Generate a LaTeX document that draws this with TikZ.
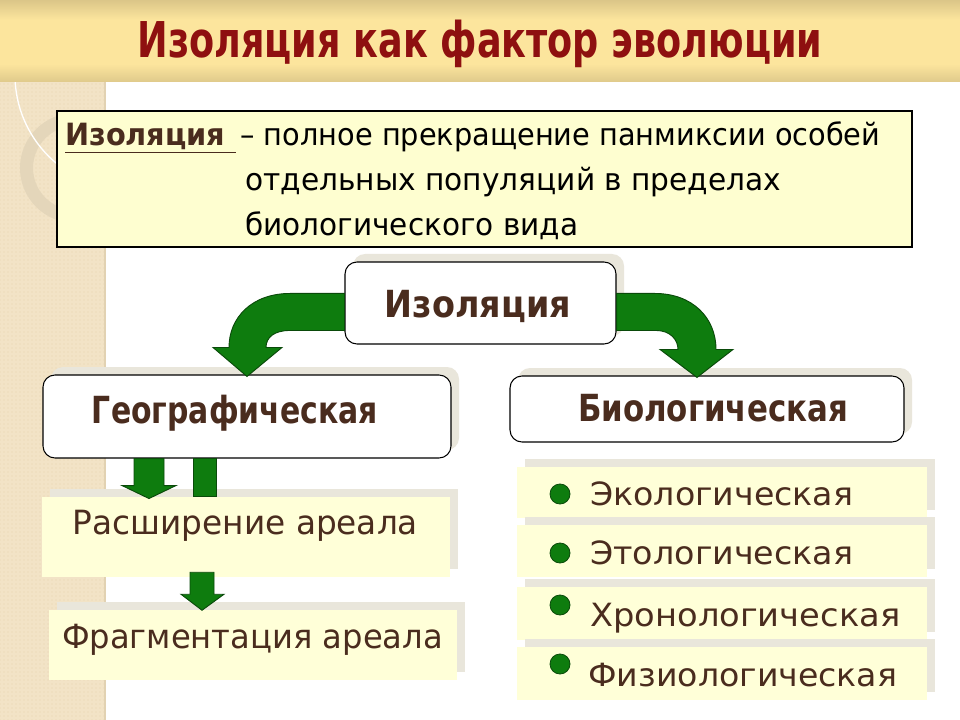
\documentclass[tikz,border=0pt]{standalone}
\usepackage{fontspec}
\setmainfont{DejaVu Sans}
\usepackage{graphicx}
\usetikzlibrary{fit,shadows,patterns}
\definecolor{brownt}{HTML}{4A2C1E}
\definecolor{titlered}{HTML}{8E1010}
\definecolor{defc}{HTML}{FEFED0}
\definecolor{itemc}{HTML}{FFFFD8}
\definecolor{shadowc}{HTML}{E9E6DB}
\definecolor{stripc}{HTML}{F2E3C6}
\definecolor{stripdot}{HTML}{E6D3AE}
\definecolor{stripedge}{HTML}{E2D2B2}
\definecolor{ringc}{HTML}{E4D6BA}
\definecolor{tbA}{HTML}{7A6E4A}
\definecolor{tbM}{HTML}{C2AE78}
\definecolor{tbB}{HTML}{FCE59D}
\definecolor{tbC}{HTML}{756945}
\definecolor{arrowg}{HTML}{0E7C0E}
\definecolor{arrowdk}{HTML}{0A4A0A}
\pgfdeclareverticalshading{tbar}{100bp}{color(0bp)=(tbC); color(14bp)=(tbM); color(36bp)=(tbB); color(63bp)=(tbB); color(84bp)=(tbM); color(100bp)=(tbA)}
\newcommand{\fw}[2]{\resizebox{#1}{\height}{#2}}
\begin{document}
\begin{tikzpicture}[x=0.75pt,y=-0.75pt,
  wbox/.style={draw=black, line width=0.8pt, fill=white, rounded corners=9pt, inner sep=0pt,
    general shadow={fill=shadowc, shadow xshift=6pt, shadow yshift=6pt}},
  ibox/.style={fill=itemc, inner sep=0pt,
    general shadow={fill=shadowc, shadow xshift=6pt, shadow yshift=6pt}},
  defbox/.style={draw=black, line width=0.8pt, fill=defc, inner sep=0pt},
  lbl/.style={inner sep=0pt, text=brownt},
  bigb/.style={font=\fontsize{28}{30}\selectfont\bfseries},
  midt/.style={font=\fontsize{25}{28}\selectfont},
  itemt/.style={font=\fontsize{24}{27}\selectfont},
  deft/.style={inner sep=0pt, text=black, font=\fontsize{23}{26}\selectfont},
  bulletdot/.style={circle, fill=arrowg, draw=arrowdk, line width=0.6pt, minimum size=15pt, inner sep=0pt},
  garrow/.style={fill=arrowg, draw=arrowdk, line width=0.7pt}
]
\useasboundingbox (0,0) rectangle (960,720);
\fill[white] (0,0) rectangle (960,720);
% left strip
\fill[stripc] (0,82) rectangle (105,720);
\fill[pattern=dots, pattern color=stripdot] (0,82) rectangle (105,720);
\draw[stripedge, line width=1.5pt] (105,82) -- (105,720);
\begin{scope}
  \clip (0,82) rectangle (105,720);
  \draw[ringc, line width=9.75pt] (75,168) circle (48.5);
  \draw[white, line width=1pt] (130,75) circle (115);
\end{scope}
% title bar
\shade[shading=tbar] (0,0) rectangle (960,82);
\node[anchor=base, inner sep=0pt, text=titlered, font=\fontsize{37}{40}\selectfont\bfseries] (title) at (480,58) {\fw{513.75pt}{Изоляция как фактор эволюции}};

% definition
\node[defbox, fit={(57,111)(912,247)}] (def) {};
\node[deft, anchor=base west] (def1) at (65,146) {\fw{611.25pt}{\textcolor{brownt}{\underline{\bfseries Изоляция\ }}\,– полное прекращение панмиксии особей}};
\node[deft, anchor=base west] (def2) at (245,191) {\fw{402pt}{отдельных популяций в пределах}};
\node[deft, anchor=base west] (def3) at (245,236) {\fw{249.75pt}{биологического вида}};

% main boxes
\node[wbox, fit={(345,262)(616,344)}] (iso) {};
\node[lbl, bigb, anchor=base] (isot) at (478,317) {\fw{139.5pt}{Изоляция}};
\node[wbox, fit={(43,375)(451,458)}] (geo) {};
\node[lbl, bigb, anchor=base] (geot) at (235,423) {\fw{214.5pt}{Географическая}};
\node[wbox, fit={(510,376)(904,442)}] (bio) {};
\node[lbl, bigb, anchor=base] (biot) at (713,421) {\fw{202.5pt}{Биологическая}};

% geographic branch
\node[ibox, fit={(42,497)(450,577)}] (ras) {};
\node[lbl, midt, anchor=base] (rast) at (245.5,534) {\fw{258.75pt}{Расширение ареала}};
\node[ibox, fit={(49,610)(457,680)}] (frag) {};
\node[lbl, midt, anchor=base] (fragt) at (252.5,648) {\fw{285.75pt}{Фрагментация ареала}};

% biological branch
\node[ibox, fit={(517,467)(927,518)}] (i1) {};
\node[ibox, fit={(517,525)(927,577)}] (i2) {};
\node[ibox, fit={(517,587)(927,640)}] (i3) {};
\node[ibox, fit={(517,647)(927,700)}] (i4) {};
\node[bulletdot] (b1) at (560,494) {};
\node[bulletdot] (b2) at (560,553) {};
\node[bulletdot] (b3) at (560,605) {};
\node[bulletdot] (b4) at (560,664) {};
\node[lbl, itemt, anchor=base west] (t1) at (590,505) {\fw{197.25pt}{Экологическая}};
\node[lbl, itemt, anchor=base west] (t2) at (590,564) {\fw{197.25pt}{Этологическая}};
\node[lbl, itemt, anchor=base west] (t3) at (590,626) {\fw{232.5pt}{Хронологическая}};
\node[lbl, itemt, anchor=base west] (t4) at (588,686) {\fw{231.75pt}{Физиологическая}};

% curved arrows
\begin{scope}[shift={(geo.north)}]
  \filldraw[garrow] (iso.west |- 0,-81) -- (43,-81) .. controls (5,-81) and (-18,-57) .. (-18,-27)
    -- (-34,-27) -- (0,2) -- (35,-27) -- (19,-27) .. controls (19,-37) and (27,-44) .. (43,-44)
    -- (iso.west |- 0,-44) -- cycle;
\end{scope}
\begin{scope}[shift={(bio.north)}]
  \filldraw[garrow] (iso.east |- 0,-82) -- (-52,-82) .. controls (-15,-82) and (9,-58) .. (9,-26)
    -- (26,-26) -- (-10,2) -- (-47,-26) -- (-29,-26) .. controls (-29,-36) and (-37,-45) .. (-51,-45)
    -- (iso.east |- 0,-45) -- cycle;
\end{scope}
% straight arrows
\begin{scope}[shift={(geo.south)}]
  \filldraw[garrow] (-113,0) -- (-83,0) -- (-83,27) -- (-71,27) -- (-98,40) -- (-125,27) -- (-113,27) -- cycle;
  \filldraw[garrow] (-54,0) rectangle (ras.north -| -31,0);
\end{scope}
\begin{scope}[shift={(ras.south)}]
  \filldraw[garrow] (-56,-5) -- (-32,-5) -- (-32,17) -- (-22,17) -- (-44,33) -- (-65,17) -- (-56,17) -- cycle;
\end{scope}
\end{tikzpicture}
\end{document}
